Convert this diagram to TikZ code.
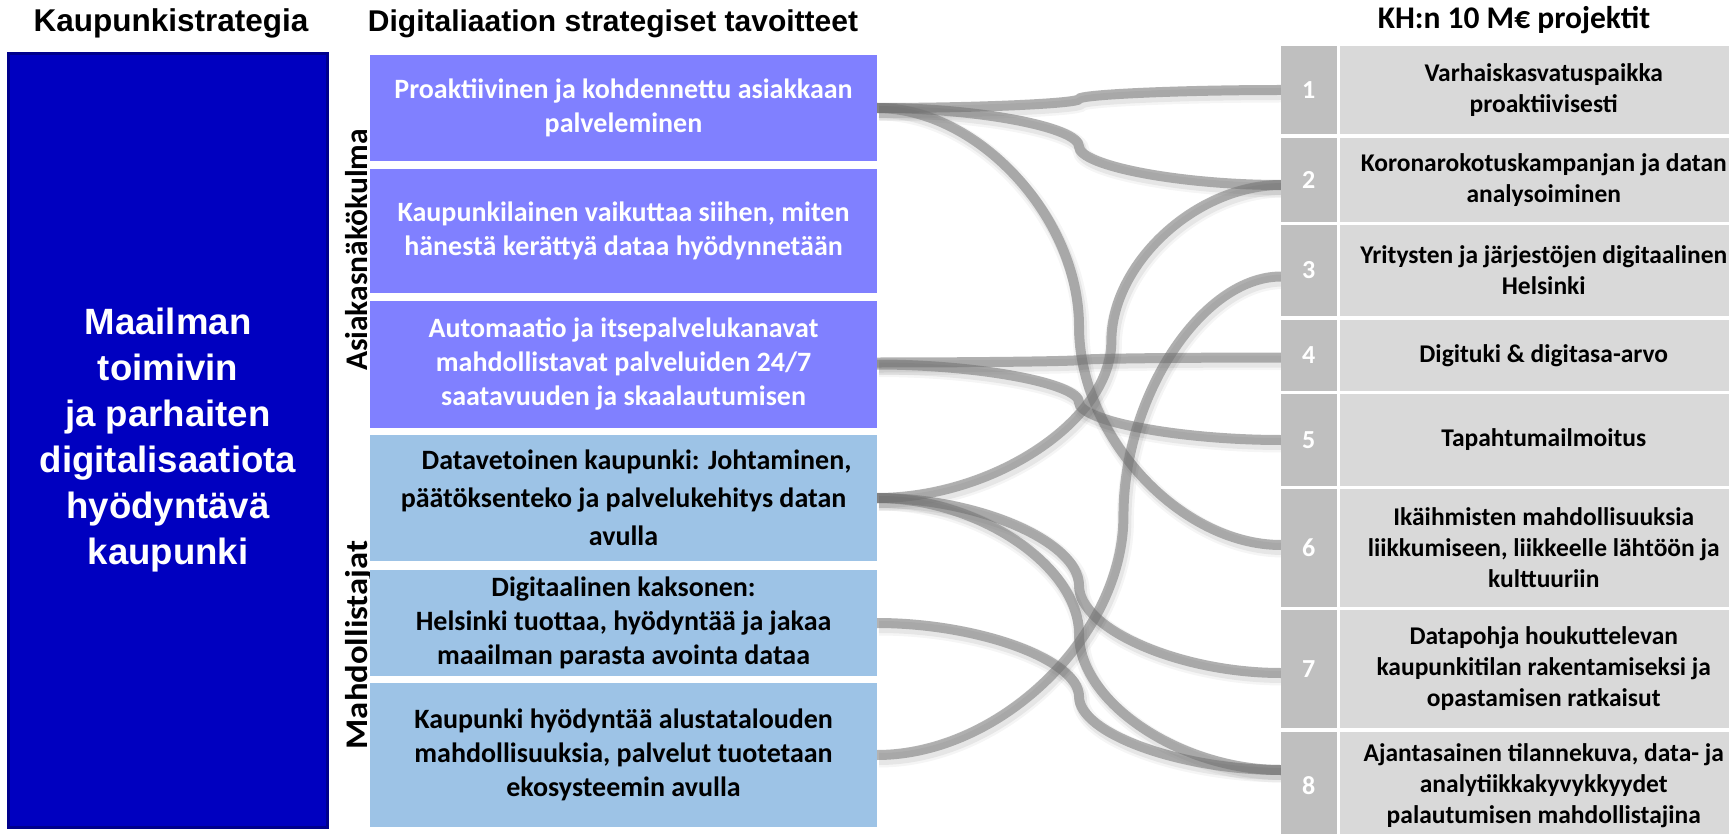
\documentclass[tikz,border=0pt]{standalone}
\usepackage{fontspec}
\setmainfont{Carlito}
\newfontfamily\arialf{Liberation Sans}
\usetikzlibrary{calc}
\pgfdeclarelayer{bg}
\pgfdeclarelayer{lines}
\pgfsetlayers{bg,lines,main}
\definecolor{ksblue}{RGB}{0,0,192}
\definecolor{ksborder}{RGB}{0,0,140}
\definecolor{purplebox}{RGB}{128,128,255}
\definecolor{lightbluebox}{RGB}{157,195,230}
\definecolor{numgray}{RGB}{191,191,191}
\definecolor{rowgray}{RGB}{217,217,217}
\definecolor{connc}{RGB}{118,118,118}
\newcommand\cconn[3]{%
  \draw[conn] let \p1=(#2), \p2=(#3), \n1={\x1+#1*(\x2-\x1)} in
    (\p1) .. controls ({(\x1+\n1*1pt)/2},\y1) and ({\n1*1pt},{\y1+(\y2-\y1)/4})
    .. ({\n1*1pt},{(\y1+\y2)/2})
    .. controls ({\n1*1pt},{\y1+3*(\y2-\y1)/4}) and ({(\n1*1pt+\x2)/2},\y2) .. (\p2);
}
\begin{document}
\begin{tikzpicture}[x=1pt,y=-1pt,
  every node/.style={inner sep=0pt, outer sep=0pt},
  hdr/.style={anchor=base},
  goalbox/.style={anchor=north west, minimum width=507pt, align=center,
    font=\bfseries\fontsize{28}{34}\selectfont},
  goalA/.style={goalbox, fill=purplebox, text=white},
  goalB/.style={goalbox, fill=lightbluebox, text=black},
  numbox/.style={anchor=north west, fill=numgray, minimum width=55.5pt, text=white,
    font=\bfseries\fontsize{26}{31}\selectfont},
  projbox/.style={anchor=north west, fill=rowgray, minimum width=408.5pt, align=center,
    font=\bfseries\fontsize{25.5}{31}\selectfont},
  vlabel/.style={rotate=90, anchor=base, font=\bfseries\fontsize{31.5}{38}\selectfont},
  conn/.style={draw=connc, draw opacity=0.55, line width=10pt,
    preaction={draw=black, draw opacity=0.04, line width=17pt,
      transform canvas={shift={(2pt,-4pt)}}},
    preaction={draw=black, draw opacity=0.06, line width=12pt,
      transform canvas={shift={(2pt,-4pt)}}}}
]
\begin{pgfonlayer}{bg}
\fill[white] (0,0) rectangle (1729,834);
\end{pgfonlayer}
\useasboundingbox (0,0) rectangle (1729,834);

% headers
\node[hdr, font=\arialf\bfseries\fontsize{31.5}{36}\selectfont] (h1) at (171,32) {Kaupunkistrategia};
\node[hdr, font=\arialf\bfseries\fontsize{30}{36}\selectfont] (h2) at (613,32) {Digitaliaation strategiset tavoitteet};
\node[hdr, font=\bfseries\fontsize{31.5}{38}\selectfont] (h3) at (1514,29) {KH:n 10 M€ projektit};

% left box
\node[draw=ksborder, line width=3pt, fill=ksblue, minimum width=319pt, minimum height=774pt,
  anchor=north west, text=white, align=center,
  font=\arialf\bfseries\fontsize{36.6}{46}\selectfont] (ks) at (8.5,53.5)
  {Maailman\\toimivin\\ja parhaiten\\digitalisaatiota\\hyödyntävä\\kaupunki};

% side labels
\node[vlabel] (va) at (367,250) {Asiakasnäkökulma};
\node[vlabel] (vb) at (367,645) {\scalebox{1.1}[1]{Mahdollistajat}};

% goal boxes
\node[goalA, minimum height=106pt] (m1) at (370,55) {Proaktiivinen ja kohdennettu asiakkaan\\palveleminen};
\node[goalA, minimum height=124pt] (m2) at (370,169) {Kaupunkilainen vaikuttaa siihen, miten\\hänestä kerättyä dataa hyödynnetään};
\node[goalA, minimum height=127pt] (m3) at (370,301) {Automaatio ja itsepalvelukanavat\\mahdollistavat palveluiden 24/7\\saatavuuden ja skaalautumisen};
\node[goalB, minimum height=126pt, font=\bfseries\fontsize{28}{38}\selectfont] (m4) at (370,435) {\hspace*{26pt}Datavetoinen kaupunki: Johtaminen,\\päätöksenteko ja palvelukehitys datan\\avulla};
\node[goalB, minimum height=106pt] (m5) at (370,570) {Digitaalinen kaksonen:\\Helsinki tuottaa, hyödyntää ja jakaa\\maailman parasta avointa dataa};
\node[goalB, minimum height=144pt] (m6) at (370,683) {Kaupunki hyödyntää alustatalouden\\mahdollisuuksia, palvelut tuotetaan\\ekosysteemin avulla};

% project rows
\node[numbox, minimum height=88pt] (n1) at (1281,46) {1};
\node[projbox, minimum height=88pt] (r1) at (1339.5,46) {Varhaiskasvatuspaikka\\proaktiivisesti};
\node[numbox, minimum height=84pt] (n2) at (1281,138) {2};
\node[projbox, minimum height=84pt] (r2) at (1339.5,138) {Koronarokotuskampanjan ja datan\\analysoiminen};
\node[numbox, minimum height=91pt] (n3) at (1281,225) {3};
\node[projbox, minimum height=91pt] (r3) at (1339.5,225) {Yritysten ja järjestöjen digitaalinen\\Helsinki};
\node[numbox, minimum height=71pt] (n4) at (1281,320) {4};
\node[projbox, minimum height=71pt] (r4) at (1339.5,320) {Digituki \& digitasa-arvo};
\node[numbox, minimum height=92pt] (n5) at (1281,394) {5};
\node[projbox, minimum height=92pt] (r5) at (1339.5,394) {Tapahtumailmoitus};
\node[numbox, minimum height=118pt] (n6) at (1281,489) {6};
\node[projbox, minimum height=118pt] (r6) at (1339.5,489) {Ikäihmisten mahdollisuuksia\\liikkumiseen, liikkeelle lähtöön ja\\kulttuuriin};
\node[numbox, minimum height=118pt] (n7) at (1281,610) {7};
\node[projbox, minimum height=118pt] (r7) at (1339.5,610) {Datapohja houkuttelevan\\kaupunkitilan rakentamiseksi ja\\opastamisen ratkaisut};
\node[numbox, minimum height=108pt] (n8) at (1281,732) {8};
\node[projbox, minimum height=108pt] (r8) at (1339.5,732) {Ajantasainen tilannekuva, data- ja\\analytiikkakyvykkyydet\\palautumisen mahdollistajina};

% connectors
\begin{pgfonlayer}{lines}
\cconn{0.5}{m1.east}{n1.west}
\cconn{0.5}{m1.east}{$(n2.west)+(0,5)$}
\cconn{0.5}{m1.east}{$(n6.west)+(0,-3)$}
\cconn{0.5}{$(m3.east)+(0,-2)$}{$(n4.west)+(0,2)$}
\cconn{0.5}{m3.east}{n5.west}
\cconn{0.58}{m4.east}{$(n2.west)+(0,5)$}
\cconn{0.5}{m4.east}{$(n7.west)+(0,4)$}
\cconn{0.5}{m4.east}{$(n8.west)+(0,-16)$}
\cconn{0.5}{m5.east}{$(n8.west)+(0,-16)$}
\cconn{0.61}{m6.east}{$(n3.west)+(0,6)$}
\end{pgfonlayer}
\end{tikzpicture}
\end{document}
